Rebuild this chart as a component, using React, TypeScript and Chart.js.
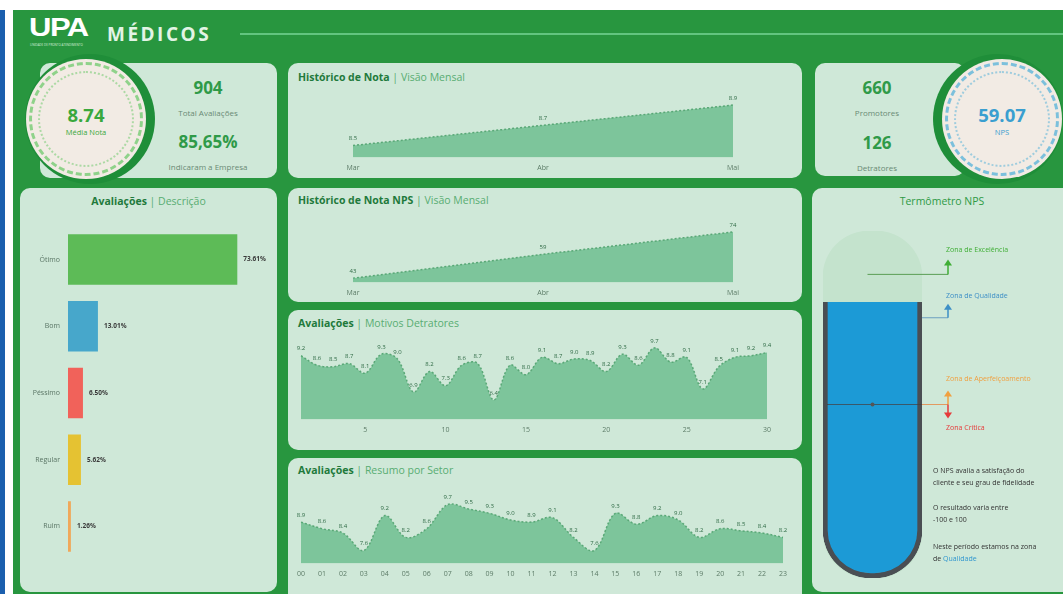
import { useEffect, useRef } from "react";
import { Chart, registerables } from "chart.js";
Chart.register(...registerables);

const FONT = "'Open Sans', 'Noto Sans', sans-serif";

// ---------- data ----------
const meses = ["Mar", "Abr", "Mai"];
const notaMensal = [8.5, 8.7, 8.9];
const npsMensal = [43, 59, 74];

const dias = ["1","2","3","4","5","6","7","8","9","10","11","12","13","14","15","16","17","18","19","20","21","22","23","24","25","26","27","28","29","30"];
const detratoresDia = [9.2, 8.6, 8.5, 8.7, 8.1, 9.3, 9.0, 6.9, 8.2, 7.3, 8.6, 8.7, 6.4, 8.6, 8.0, 9.1, 8.7, 9.0, 8.9, 8.2, 9.3, 8.6, 9.7, 8.8, 9.1, 7.1, 8.5, 9.1, 9.2, 9.4];

const horas = ["00","01","02","03","04","05","06","07","08","09","10","11","12","13","14","15","16","17","18","19","20","21","22","23"];
const setorHora = [8.9, 8.6, 8.4, 7.6, 9.2, 8.2, 8.6, 9.7, 9.5, 9.3, 9.0, 8.9, 9.1, 8.2, 7.6, 9.3, 8.8, 9.2, 9.0, 8.2, 8.6, 8.5, 8.4, 8.2];

const descCategorias = ["Ótimo", "Bom", "Péssimo", "Regular", "Ruim"];
const descValores = [73.61, 13.01, 6.5, 5.62, 1.26];
const descCores = ["#5dbb57", "#47a7cb", "#f1625a", "#e5c232", "#f0a85a"];

const npsValor = 59.07;
const npsEscala = [-100, 100];
const zonaLimites = [75, 50, 0];
const zonaNomes = ["Zona de Excelência", "Zona de Qualidade", "Zona de Aperfeiçoamento", "Zona Crítica"];
const zonaCores = ["#3fae35", "#3d8fc6", "#f0a040", "#e63a3a"];

// ---------- plugins ----------
const valueLabels = (fmt: (v: number) => string) => ({
  id: "valueLabels",
  afterDatasetsDraw(chart: any) {
    const ctx = chart.ctx;
    const meta = chart.getDatasetMeta(0);
    const data = chart.data.datasets[0].data;
    ctx.save();
    ctx.font = `6px ${FONT}`;
    ctx.fillStyle = "#2f6a45";
    ctx.textAlign = "center";
    ctx.textBaseline = "bottom";
    meta.data.forEach((pt: any, i: number) => {
      ctx.fillText(fmt(data[i]), pt.x, pt.y - 4);
    });
    ctx.restore();
  },
});

const barLabels = {
  id: "barLabels",
  afterDatasetsDraw(chart: any) {
    const ctx = chart.ctx;
    const meta = chart.getDatasetMeta(0);
    const data = chart.data.datasets[0].data;
    ctx.save();
    ctx.font = `bold 6.5px ${FONT}`;
    ctx.fillStyle = "#3a3a3a";
    ctx.textAlign = "left";
    ctx.textBaseline = "middle";
    meta.data.forEach((b: any, i: number) => {
      ctx.fillText(data[i].toFixed(2) + "%", b.x + 6, b.y);
    });
    ctx.restore();
  },
};

const zonesPlugin = {
  id: "zones",
  afterDatasetsDraw(chart: any) {
    const { ctx, chartArea: a, scales } = chart;
    const y = scales.y;
    const cx = (a.left + a.right) / 2;
    const ax = a.right + 26;
    const arrow = (x: number, y0: number, y1: number, color: string) => {
      const dir = y1 < y0 ? -1 : 1;
      ctx.strokeStyle = color;
      ctx.lineWidth = 1.5;
      ctx.beginPath();
      ctx.moveTo(x, y0);
      ctx.lineTo(x, y1 - dir * 4);
      ctx.stroke();
      ctx.fillStyle = color;
      ctx.beginPath();
      ctx.moveTo(x, y1);
      ctx.lineTo(x - 4, y1 - dir * 6);
      ctx.lineTo(x + 4, y1 - dir * 6);
      ctx.closePath();
      ctx.fill();
    };
    const label = (text: string, yy: number, color: string) => {
      ctx.fillStyle = color;
      ctx.font = `7px ${FONT}`;
      ctx.textAlign = "left";
      ctx.textBaseline = "middle";
      ctx.fillText(text, ax - 2, yy);
    };
    ctx.save();
    const y75 = y.getPixelForValue(zonaLimites[0]);
    ctx.strokeStyle = "#5a9e55";
    ctx.lineWidth = 1;
    ctx.beginPath();
    ctx.moveTo(cx - 5, y75);
    ctx.lineTo(ax, y75);
    ctx.stroke();
    arrow(ax, y75, y75 - 15, zonaCores[0]);
    label(zonaNomes[0], y75 - 24, zonaCores[0]);

    const y50 = y.getPixelForValue(zonaLimites[1]);
    ctx.strokeStyle = "#6b9fc0";
    ctx.lineWidth = 1;
    ctx.beginPath();
    ctx.moveTo(a.right, y50);
    ctx.lineTo(ax, y50);
    ctx.stroke();
    arrow(ax, y50, y50 - 14, zonaCores[1]);
    label(zonaNomes[1], y50 - 22, zonaCores[1]);

    const y0 = y.getPixelForValue(zonaLimites[2]);
    ctx.strokeStyle = "rgba(70,60,60,0.7)";
    ctx.lineWidth = 1;
    ctx.beginPath();
    ctx.moveTo(a.left + 4, y0);
    ctx.lineTo(a.right, y0);
    ctx.stroke();
    ctx.strokeStyle = "#e39a60";
    ctx.beginPath();
    ctx.moveTo(a.right, y0);
    ctx.lineTo(ax, y0);
    ctx.stroke();
    ctx.fillStyle = "#555";
    ctx.beginPath();
    ctx.arc(cx, y0, 2, 0, Math.PI * 2);
    ctx.fill();
    arrow(ax, y0, y0 - 14, zonaCores[2]);
    label(zonaNomes[2], y0 - 26, zonaCores[2]);
    arrow(ax, y0, y0 + 14, zonaCores[3]);
    label(zonaNomes[3], y0 + 23, zonaCores[3]);
    ctx.restore();
  },
};

// ---------- components ----------
type AreaProps = {
  left: number; top: number; width: number; height: number;
  labels: string[]; data: number[]; min: number; max: number;
  pad: { left: number; right: number; top: number; bottom: number };
  tension: number; show?: (i: number) => boolean; fmt: (v: number) => string;
};

function AreaChart(p: AreaProps) {
  const ref = useRef<HTMLCanvasElement>(null);
  useEffect(() => {
    const chart = new Chart(ref.current!, {
      type: "line",
      data: {
        labels: p.labels,
        datasets: [{
          data: p.data,
          fill: "start",
          backgroundColor: "#7dc59b",
          borderColor: "#5aa877",
          borderWidth: 1.5,
          borderDash: [2, 2],
          pointRadius: 0,
          tension: p.tension,
        }],
      },
      options: {
        animation: false,
        responsive: false,
        layout: { padding: p.pad },
        plugins: { legend: { display: false }, tooltip: { enabled: false } },
        scales: {
          x: {
            grid: { display: false, drawTicks: false },
            border: { display: false },
            ticks: {
              autoSkip: false,
              maxRotation: 0,
              padding: 6,
              font: { size: 7, family: FONT },
              color: "#5d7c68",
              callback: (_v: any, i: number) => (p.show ? (p.show(i) ? p.labels[i] : "") : p.labels[i]),
            },
          },
          y: { display: false, min: p.min, max: p.max },
        },
      } as any,
      plugins: [valueLabels(p.fmt)],
    });
    return () => chart.destroy();
  }, []);
  return (
    <canvas
      ref={ref}
      width={p.width}
      height={p.height}
      style={{ position: "absolute", left: p.left, top: p.top, width: p.width, height: p.height }}
    />
  );
}

function DescBar() {
  const ref = useRef<HTMLCanvasElement>(null);
  useEffect(() => {
    const chart = new Chart(ref.current!, {
      type: "bar",
      data: {
        labels: descCategorias,
        datasets: [{ data: descValores, backgroundColor: descCores, barPercentage: 0.755, categoryPercentage: 1 }],
      },
      options: {
        indexAxis: "y",
        animation: false,
        responsive: false,
        layout: { padding: { left: 8, right: 25, top: 10, bottom: 10 } },
        plugins: { legend: { display: false }, tooltip: { enabled: false } },
        scales: {
          x: { display: false, min: 0, max: 80 },
          y: {
            grid: { display: false, drawTicks: false },
            border: { display: false },
            ticks: { font: { size: 7, family: FONT }, color: "#5a7565", padding: 8 },
            afterFit: (s: any) => { s.width = 40; },
          },
        },
      } as any,
      plugins: [barLabels],
    });
    return () => chart.destroy();
  }, []);
  return <canvas ref={ref} width={257} height={358} style={{ position: "absolute", left: 20, top: 214, width: 257, height: 358 }} />;
}

function Thermo() {
  const ref = useRef<HTMLCanvasElement>(null);
  useEffect(() => {
    const chart = new Chart(ref.current!, {
      type: "bar",
      data: {
        labels: ["NPS"],
        datasets: [
          {
            data: [[npsEscala[0], npsValor]],
            backgroundColor: "#1c9ad6",
            borderColor: "#4a4e53",
            borderWidth: { left: 5, right: 5, bottom: 5, top: 0 },
            borderSkipped: false,
            borderRadius: { topLeft: 0, topRight: 0, bottomLeft: 48, bottomRight: 48 },
            grouped: false,
            barPercentage: 1,
            categoryPercentage: 1,
          },
          {
            data: [npsEscala],
            backgroundColor: "#c4e3cd",
            borderWidth: 0,
            borderSkipped: false,
            borderRadius: 46,
            grouped: false,
            barPercentage: 1,
            categoryPercentage: 1,
          },
        ],
      } as any,
      options: {
        animation: false,
        responsive: false,
        layout: { padding: { left: 11, right: 141, top: 21, bottom: 12 } },
        plugins: { legend: { display: false }, tooltip: { enabled: false } },
        scales: { x: { display: false }, y: { display: false, min: npsEscala[0], max: npsEscala[1] } },
      } as any,
      plugins: [zonesPlugin],
    });
    return () => chart.destroy();
  }, []);
  return <canvas ref={ref} width={251} height={380} style={{ position: "absolute", left: 812, top: 210, width: 251, height: 380 }} />;
}

const card = (left: number, top: number, width: number, height: number, extra: any = {}) => ({
  position: "absolute" as const,
  left, top, width, height,
  background: "#cfe8d8",
  borderRadius: 10,
  ...extra,
});

function Title({ left, top, bold, light, center, width }: any) {
  return (
    <div style={{ position: "absolute", left, top, width, textAlign: center ? "center" : "left", fontSize: 10.5, fontFamily: FONT, whiteSpace: "nowrap", lineHeight: "12px" }}>
      <span style={{ color: "#1f7a3c", fontWeight: 700 }}>{bold}</span>
      {light ? <span style={{ color: "#58ad72" }}> | {light}</span> : null}
    </div>
  );
}

function Gauge({ cx, cy, ringCx, value, label, color, tick }: any) {
  return (
    <>
      <div style={{ position: "absolute", left: ringCx - 65, top: cy - 65, width: 130, height: 130, borderRadius: "50%", background: "#1f8e39" }} />
      <div style={{ position: "absolute", left: cx - 60, top: cy - 60, width: 120, height: 120, borderRadius: "50%", background: "#f2ebe4" }} />
      <div style={{ position: "absolute", left: cx - 57, top: cy - 57, width: 108, height: 108, borderRadius: "50%", border: `3px dashed ${tick}` }} />
      <div style={{ position: "absolute", left: cx - 48, top: cy - 48, width: 92, height: 92, borderRadius: "50%", border: `2px dotted ${tick}`, opacity: 0.7 }} />
      <div style={{ position: "absolute", left: cx - 50, top: cy - 15, width: 100, textAlign: "center", fontFamily: FONT, fontWeight: 700, fontSize: 18.5, color, lineHeight: "22px" }}>{value}</div>
      <div style={{ position: "absolute", left: cx - 50, top: cy + 9, width: 100, textAlign: "center", fontFamily: FONT, fontSize: 7.5, color, lineHeight: "9px" }}>{label}</div>
    </>
  );
}

function Kpi({ x, y, value, label }: any) {
  return (
    <>
      <div style={{ position: "absolute", left: x - 60, top: y - 12, width: 120, textAlign: "center", fontFamily: FONT, fontWeight: 700, fontSize: 17, color: "#2f9a48", lineHeight: "24px" }}>{value}</div>
      <div style={{ position: "absolute", left: x - 60, top: y + 20, width: 120, textAlign: "center", fontFamily: FONT, fontSize: 8, color: "#6a8a75", lineHeight: "10px" }}>{label}</div>
    </>
  );
}

const txt = (top: number, content: any) => (
  <div style={{ position: "absolute", left: 933, top, fontFamily: FONT, fontSize: 7, color: "#333", whiteSpace: "nowrap", lineHeight: "9px" }}>{content}</div>
);

export default function App() {
  return (
    <div style={{ position: "fixed", left: 0, top: 0, width: 1063, height: 594, background: "#fff", overflow: "hidden", fontFamily: FONT }}>
      <div style={{ position: "absolute", left: 0, top: 10, width: 5, height: 584, background: "#1b5fae" }} />
      <div style={{ position: "absolute", left: 13, top: 10, width: 1050, height: 584, background: "#28963f" }} />
      {/* header */}
      <div style={{ position: "absolute", left: 29, top: 14, fontFamily: "'Liberation Sans', Arial, sans-serif", fontWeight: 900, fontSize: 31, color: "#fff", letterSpacing: -1.5, lineHeight: "32px", transform: "scaleY(0.85)", transformOrigin: "top left" }}>UPA</div>
      <div style={{ position: "absolute", left: 30, top: 43, fontSize: 3, color: "#d8f0dc", lineHeight: "4px" }}>UNIDADE DE PRONTO ATENDIMENTO</div>
      <div style={{ position: "absolute", left: 107, top: 22, fontFamily: FONT, fontWeight: 700, fontSize: 19, color: "#e2f4e5", letterSpacing: 2.5, lineHeight: "24px" }}>MÉDICOS</div>
      <div style={{ position: "absolute", left: 240, top: 33, width: 823, height: 2, background: "#62c57f" }} />

      {/* left KPI */}
      <div style={card(40, 63, 237, 115)} />
      <Gauge cx={86} cy={119} ringCx={90} value="8.74" label="Média Nota" color="#3aa83c" tick="#8fd28a" />
      <Kpi x={208} y={88} value="904" label="Total Avaliações" />
      <Kpi x={208} y={142} value="85,65%" label="Indicaram a Empresa" />

      {/* right KPI */}
      <div style={card(815, 63, 150, 113)} />
      <Kpi x={877} y={88} value="660" label="Promotores" />
      <Kpi x={877} y={143} value="126" label="Detratores" />
      <Gauge cx={1002} cy={119} ringCx={998} value="59.07" label="NPS" color="#3a9fd0" tick="#7cc0dc" />

      {/* left bar card */}
      <div style={card(20, 188, 257, 404)} />
      <Title left={20} top={195} width={257} center bold="Avaliações" light="Descrição" />
      <DescBar />

      {/* middle cards */}
      <div style={card(288, 63, 514, 115)} />
      <Title left={298} top={71} bold="Histórico de Nota" light="Visão Mensal" />
      <AreaChart left={288} top={85} width={514} height={93} labels={meses} data={notaMensal} min={8.38} max={9.0}
        pad={{ left: 65, right: 69, top: 10, bottom: 0 }} tension={0} fmt={(v) => v.toFixed(1)} />

      <div style={card(288, 188, 514, 114)} />
      <Title left={298} top={194} bold="Histórico de Nota NPS" light="Visão Mensal" />
      <AreaChart left={288} top={210} width={514} height={93} labels={meses} data={npsMensal} min={40} max={82}
        pad={{ left: 65, right: 69, top: 10, bottom: 0 }} tension={0} fmt={(v) => String(v)} />

      <div style={card(288, 310, 514, 140)} />
      <Title left={298} top={317} bold="Avaliações" light="Motivos Detratores" />
      <AreaChart left={288} top={330} width={514} height={110} labels={dias} data={detratoresDia} min={5.15} max={10.2}
        pad={{ left: 13, right: 35, top: 10, bottom: 0 }} tension={0.35} show={(i) => (i + 1) % 5 === 0} fmt={(v) => v.toFixed(1)} />

      <div style={card(288, 458, 514, 146)} />
      <Title left={298} top={464} bold="Avaliações" light="Resumo por Setor" />
      <AreaChart left={288} top={480} width={514} height={104} labels={horas} data={setorHora} min={7.0} max={10.37}
        pad={{ left: 13, right: 19, top: 10, bottom: 0 }} tension={0.35} fmt={(v) => v.toFixed(1)} />

      {/* thermometer card */}
      <div style={card(812, 188, 261, 404)} />
      <div style={{ position: "absolute", left: 812, top: 195, width: 260, textAlign: "center", fontFamily: FONT, fontSize: 10.5, color: "#2e9a45", lineHeight: "12px" }}>Termômetro NPS</div>
      <Thermo />
      {txt(466, "O NPS avalia a satisfação do")}
      {txt(478, "cliente e seu grau de fidelidade")}
      {txt(503, "O resultado varia entre")}
      {txt(515, "-100 e 100")}
      {txt(542, "Neste período estamos na zona")}
      {txt(554, <>de <span style={{ color: "#2f96cf" }}>Qualidade</span></>)}
    </div>
  );
}
